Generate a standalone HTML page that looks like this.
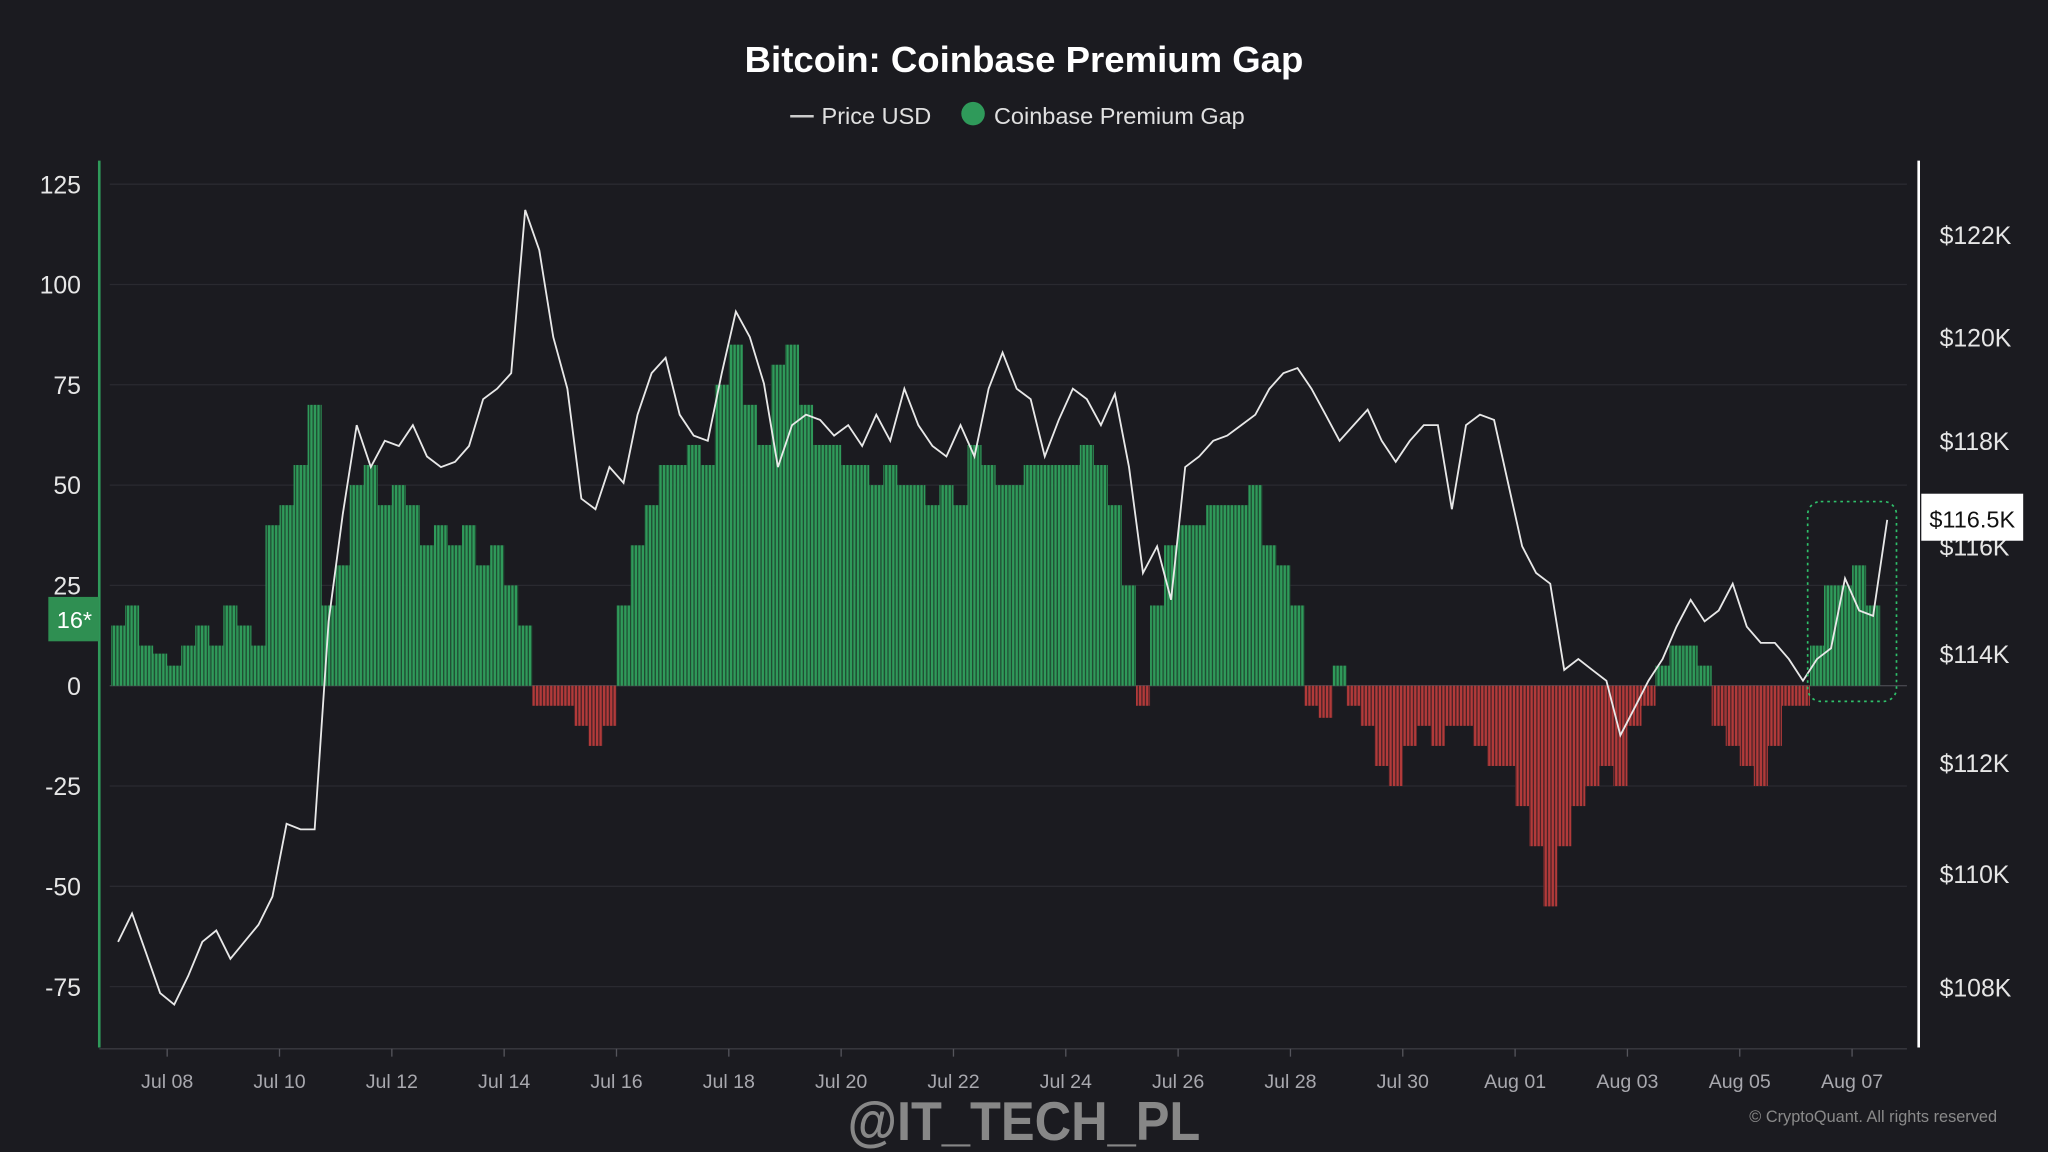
<!DOCTYPE html>
<html><head><meta charset="utf-8"><style>
html,body{margin:0;padding:0;background:#1b1b20;}
svg{display:block;font-family:"Liberation Sans",sans-serif;}
</style></head><body>
<svg id="chart" width="2048" height="1152" viewBox="0 0 1568 882" xmlns="http://www.w3.org/2000/svg">
<defs>
 <pattern id="gstripe" patternUnits="userSpaceOnUse" width="2.7" height="10"><rect x="0" y="0" width="1.8" height="10" fill="#2f9a5a"/><rect x="1.8" y="0" width="0.9" height="10" fill="#1f4f33"/></pattern>
 <pattern id="rstripe" patternUnits="userSpaceOnUse" width="2.7" height="10"><rect x="0" y="0" width="1.8" height="10" fill="#b23a3a"/><rect x="1.8" y="0" width="0.9" height="10" fill="#4a2226"/></pattern>
</defs>
<rect x="0" y="0" width="1568" height="882" fill="#1b1b20"/>
<text x="784" y="55" text-anchor="middle" fill="#ffffff" font-size="28" font-weight="bold">Bitcoin: Coinbase Premium Gap</text>
<g>
 <line x1="605" y1="89" x2="623" y2="89" stroke="#cccccc" stroke-width="2"/>
 <text x="629" y="95" fill="#e0e0e0" font-size="18">Price USD</text>
 <circle cx="745" cy="87" r="9" fill="#2f9a5a"/>
 <text x="761" y="95" fill="#e0e0e0" font-size="18">Coinbase Premium Gap</text>
</g>
<g id="grid"></g>
<g id="bars"></g>
<path id="priceLine" fill="none" stroke="#e8e8e8" stroke-width="1.4"/>
<line x1="76" y1="123" x2="76" y2="802" stroke="#2f9a5a" stroke-width="2"/>
<line x1="1469" y1="123" x2="1469" y2="802" stroke="#ffffff" stroke-width="2"/>
<line x1="76" y1="803" x2="1460" y2="803" stroke="#3a3a40" stroke-width="1"/>
<g id="ticks"></g>
<rect x="37" y="457" width="39" height="34" fill="#2f8f52"/>
<text x="57" y="481" text-anchor="middle" fill="#ffffff" font-size="18">16*</text>
<rect x="1384" y="384" width="68" height="153" rx="10" fill="none" stroke="#2fc06a" stroke-width="1.3" stroke-dasharray="2,3"/>
<rect x="1471" y="378" width="78" height="36" fill="#ffffff"/>
<text x="1510" y="404" text-anchor="middle" fill="#111" font-size="18">$116.5K</text>
<text x="784" y="873" text-anchor="middle" fill="#9a9a9a" font-size="42" font-weight="bold" opacity="0.85" textLength="270" lengthAdjust="spacingAndGlyphs">@IT_TECH_PL</text>
<text x="1529" y="859" text-anchor="end" fill="#8a8a8a" font-size="12.5">© CryptoQuant. All rights reserved</text>
</svg>
<script>
const premium=[15,20,10,8, 5,10,15,10, 20,15,10,40, 45,55,70,20, 30,50,55,45, 50,45,35,40, 35,40,30,35, 25,15,-5,-5, -5,-10,-15,-10, 20,35,45,55, 55,60,55,75, 85,70,60,80, 85,70,60,60, 55,55,50,55, 50,50,45,50, 45,60,55,50, 50,55,55,55, 55,60,55,45, 25,-5,20,35, 40,40,45,45, 45,50,35,30, 20,-5,-8,5, -5,-10,-20,-25, -15,-10,-15,-10, -10,-15,-20,-20, -30,-40,-55,-40, -30,-25,-20,-25, -10,-5,5,10, 10,5,-10,-15, -20,-25,-15,-5, -5,10,25,25, 30,20];
const price=[108.8,109.3,108.6,107.9,107.7,108.2,108.8,109.0,108.5,108.8,109.1,109.6,110.9,110.8,110.8,114.6,116.6,118.3,117.5,118.0,117.9,118.3,117.7,117.5,117.6,117.9,118.8,119.0,119.3,122.5,121.7,120.0,119.0,116.9,116.7,117.5,117.2,118.5,119.3,119.6,118.5,118.1,118.0,119.3,120.5,120.0,119.1,117.5,118.3,118.5,118.4,118.1,118.3,117.9,118.5,118.0,119.0,118.3,117.9,117.7,118.3,117.7,119.0,119.7,119.0,118.8,117.7,118.4,119.0,118.8,118.3,118.9,117.5,115.5,116.0,115.0,117.5,117.7,118.0,118.1,118.3,118.5,119.0,119.3,119.4,119.0,118.5,118.0,118.3,118.6,118.0,117.6,118.0,118.3,118.3,116.7,118.3,118.5,118.4,117.2,116.0,115.5,115.3,113.7,113.9,113.7,113.5,112.5,113.0,113.5,113.9,114.5,115.0,114.6,114.8,115.3,114.5,114.2,114.2,113.9,113.5,113.9,114.1,115.4,114.8,114.7,116.5];
const leftTicks=[125,100,75,50,25,0,-25,-50,-75];
const rightTicks=[122,120,118,116,114,112,110,108];
const dateLabels=["Jul 08","Jul 10","Jul 12","Jul 14","Jul 16","Jul 18","Jul 20","Jul 22","Jul 24","Jul 26","Jul 28","Jul 30","Aug 01","Aug 03","Aug 05","Aug 07"];
const NS="http://www.w3.org/2000/svg";
const yL=v=>525-v*3.072;
const yR=p=>180+Math.log(122/p)*4725;
const xDay=d=>85+d*43;
const step=0.25;
function mk(tag,attrs,parent){const e=document.createElementNS(NS,tag);for(const k in attrs)e.setAttribute(k,attrs[k]);parent.appendChild(e);return e;}
const grid=document.getElementById('grid'),ticks=document.getElementById('ticks'),bars=document.getElementById('bars');
leftTicks.forEach(v=>{
 const l=mk('line',{x1:84,x2:1460,y1:yL(v),y2:yL(v),stroke:v===0?'#45454c':'#2a2a30','stroke-width':1},grid);
 
 
 const t=mk('text',{x:62,y:yL(v)+7,'text-anchor':'end',fill:'#e6e6e6','font-size':19},ticks);
 t.textContent=v;
 
 
});
rightTicks.forEach(p=>{
 const t=mk('text',{x:1485,y:yR(p)+7,fill:'#e6e6e6','font-size':19},ticks);
 t.textContent='$'+p+'K';
 
 
});
dateLabels.forEach((s,i)=>{
 const x=xDay(1+2*i);
 mk('line',{x1:x,x2:x,y1:803,y2:809,stroke:'#55555c'},ticks);
 const t=mk('text',{x:x,y:833,'text-anchor':'middle',fill:'#a8a8ae','font-size':15},ticks);
 t.textContent=s;
 
 
});
const bw=43*step;
premium.forEach((v,i)=>{
 const x=xDay(i*step);
 const y0=yL(0),y1=yL(v);
 const r=mk('rect',{x:x,y:Math.min(y0,y1),width:bw,height:Math.abs(y1-y0),fill:v>=0?'url(#gstripe)':'url(#rstripe)'},bars);
 
 
});
let d='';
price.forEach((p,i)=>{const x=xDay(i*step)+bw/2;d+=(i?'L':'M')+x.toFixed(1)+','+yR(p).toFixed(1);});
document.getElementById('priceLine').setAttribute('d',d);
</script>
</body></html>
